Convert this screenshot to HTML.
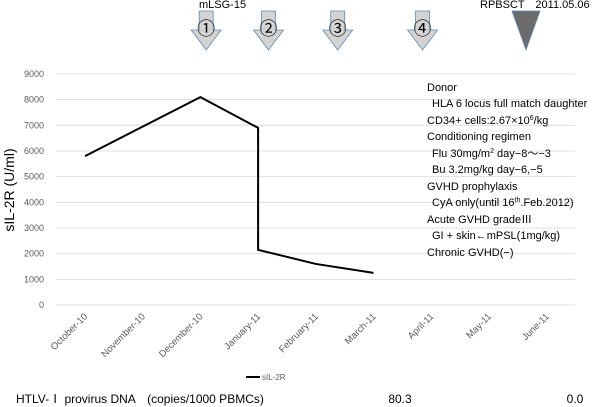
<!DOCTYPE html>
<html><head><meta charset="utf-8"><style>
body{margin:0;background:#fff;}
svg{display:block;font-family:"Liberation Sans","Noto Sans CJK JP",sans-serif;}
</style></head><body>
<svg id="chart" width="600" height="407">
<g id="grid"></g>
<g id="yticks"></g>
<g id="xticks"></g>
<text transform="translate(14,190) rotate(-90)" text-anchor="middle" font-size="14" fill="#000">sIL-2R (U/ml)</text>
<g id="series"></g>
<g>
<text x="199" y="8" font-size="11">mLSG-15</text>
<text x="480" y="8" font-size="11">RPBSCT　2011.05.06</text>
<polygon points="512,11 540,11 526,50" fill="#6b6b6b" stroke="#5b8bb5" stroke-width="0.8"/>
</g>
<g id="arrows"></g>
<g font-size="11" fill="#000">
<text x="427" y="91">Donor</text>
<text x="432" y="107">HLA 6 locus full match daughter</text>
<text x="427" y="124">CD34+ cells:2.67×10<tspan font-size="7" dy="-4">6</tspan><tspan dy="4">/kg</tspan></text>
<text x="427" y="140">Conditioning regimen</text>
<text x="432" y="157">Flu 30mg/m<tspan font-size="7" dy="-4">2</tspan><tspan dy="4"> day−8〜−3</tspan></text>
<text x="432" y="173">Bu 3.2mg/kg day−6,−5</text>
<text x="427" y="190">GVHD prophylaxis</text>
<text x="432" y="206">CyA only(until 16<tspan font-size="7" dy="-4">th</tspan><tspan dy="4">.Feb.2012)</tspan></text>
<text x="427" y="223">Acute GVHD gradeⅢ</text>
<text x="432" y="239">GI + skin←mPSL(1mg/kg)</text>
<text x="427" y="256">Chronic GVHD(−)</text>
</g>
<g>
<line x1="246" y1="377" x2="260" y2="377" stroke="#000" stroke-width="2"/>
<text x="262" y="380" font-size="8" fill="#595959">sIL-2R</text>
</g>
<g font-size="12" fill="#000">
<text x="16" y="403">HTLV-Ⅰ provirus DNA　(copies/1000 PBMCs)</text>
<text x="400" y="403" text-anchor="middle">80.3</text>
<text x="575" y="403" text-anchor="middle">0.0</text>
</g>
</svg>
<script>
const categories=["October-10","November-10","December-10","January-11","February-11","March-11","April-11","May-11","June-11"];
const yTicks=[0,1000,2000,3000,4000,5000,6000,7000,8000,9000];
const pointCats=[0,2,3,3,4,5];
const values=[5800,8100,6900,2150,1600,1250];
const arrowCats=[2.1,3.18,4.38,5.85];
const arrowLabels=["①","②","③","④"];
const NS="http://www.w3.org/2000/svg";
const x0=85,step=57.7,yBase=305,yPer=0.02567;
const X=i=>x0+step*i, Y=v=>yBase-v*yPer;
function mk(tag,attrs,parent){const e=document.createElementNS(NS,tag);for(const k in attrs)e.setAttribute(k,attrs[k]);parent.appendChild(e);return e;}
const grid=document.getElementById('grid'),yt=document.getElementById('yticks'),xt=document.getElementById('xticks');
yTicks.forEach(v=>{
 const l=mk('line',{x1:56,x2:575,y1:Y(v),y2:Y(v),stroke:'#d9d9d9','stroke-width':0.8},grid);
 
 
 const t=mk('text',{x:44,y:Y(v)+3,'text-anchor':'end','font-size':9,fill:'#595959'},yt);
 
 
 t.textContent=v;
});
categories.forEach((c,i)=>{
 const t=mk('text',{transform:`translate(${X(i)+3},${317}) rotate(-45)`,'text-anchor':'end','font-size':9.5,fill:'#595959'},xt);
 
 
 t.textContent=c;
});
const pl=mk('polyline',{points:pointCats.map((c,i)=>X(c)+','+Y(values[i])).join(' '),fill:'none',stroke:'#000','stroke-width':2,'stroke-linejoin':'miter'},document.getElementById('series'));


const ag=document.getElementById('arrows');
arrowCats.forEach((c,i)=>{
 const cx=X(c);
 const p=mk('polygon',{points:`${cx-7},11 ${cx+7},11 ${cx+7},30 ${cx+15},30 ${cx},50 ${cx-15},30 ${cx-7},30`,fill:'#d3d3d3',stroke:'#5b8bb5','stroke-width':0.8},ag);
 
 
 const t=mk('text',{x:cx,y:35,'text-anchor':'middle','font-size':18,fill:'#000'},ag);
 
 
 t.textContent=arrowLabels[i];
});
</script>
</body></html>
